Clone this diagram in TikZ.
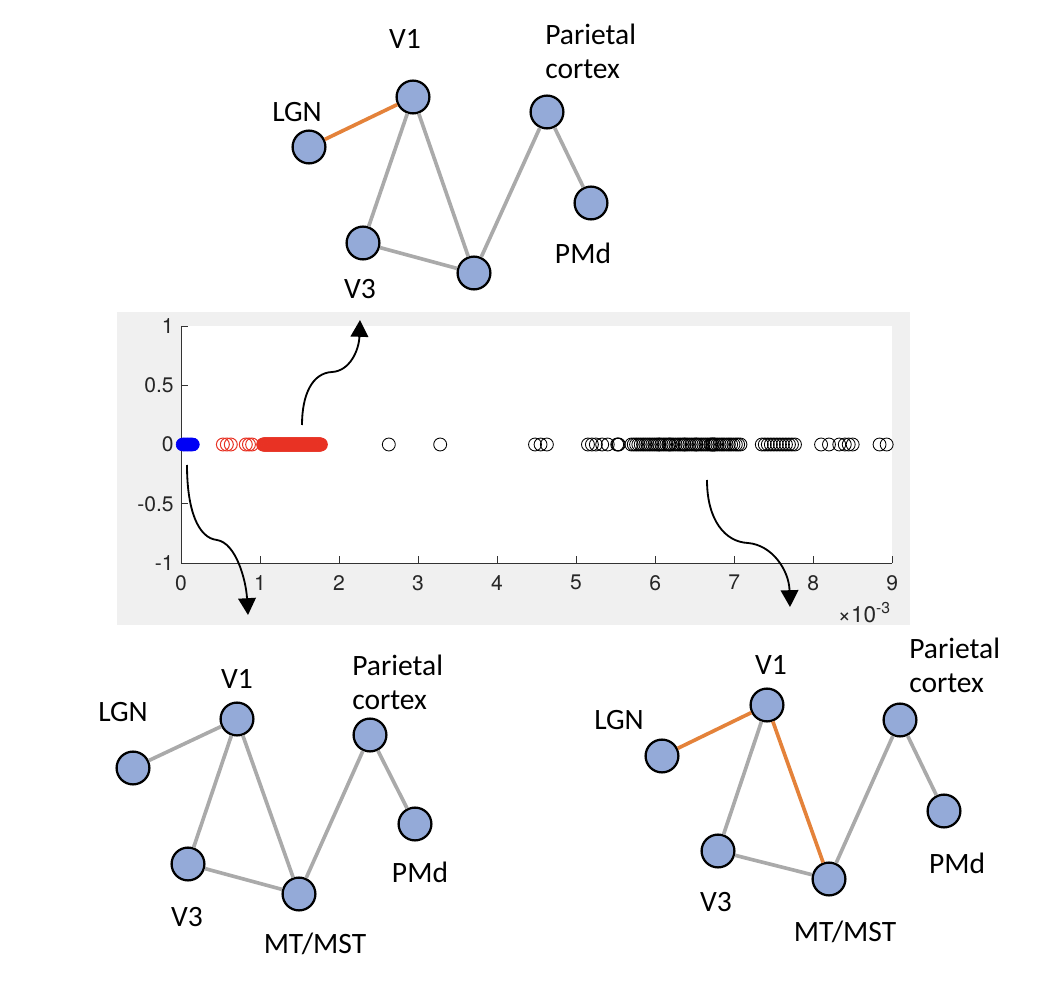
\documentclass[tikz,border=0pt]{standalone}
\usepackage{fontspec}
\setmainfont{Carlito}
\newfontfamily\axfont{TeX Gyre Heros}
\usetikzlibrary{arrows.meta, plotmarks}
\definecolor{areablue}{RGB}{148,170,216}
\definecolor{linkgray}{RGB}{170,170,170}
\definecolor{linkorange}{RGB}{228,130,58}
\definecolor{panelgray}{RGB}{240,240,240}
\definecolor{matred}{RGB}{232,50,36}
\definecolor{matblue}{RGB}{0,0,245}
\begin{document}
\begin{tikzpicture}[
    x=0.025cm, y=-0.025cm,
    area/.style={circle, draw, line width=1.6pt, fill=areablue, minimum size=0.82cm, inner sep=0pt},
    lbl/.style={font=\fontsize{21}{24}\selectfont, align=left, inner sep=0pt},
    link/.style={line width=2.6pt, linkgray},
    hot/.style={line width=2.6pt, linkorange},
    flow/.style={-{Triangle[length=4.2mm, width=4.4mm]}, line width=1.3pt},
    tick/.style={line width=0.6pt, black!80},
    ticklbl/.style={font=\axfont\fontsize{15}{17}\selectfont, inner sep=0pt, black!85},
    redmk/.style={draw=matred, only marks, mark=o, mark size=4.6pt, mark options={line width=0.7pt}},
    blackmk/.style={draw=black, only marks, mark=o, mark size=4.6pt, mark options={line width=0.6pt}},
    bluemk/.style={draw=matblue, only marks, mark=*, mark size=4.6pt, mark options={fill=matblue, draw=matblue}},
]
\useasboundingbox (0,0) rectangle (1040,990);

\node[area] (lgnT) at (309,147) {};
\node[area] (v1T) at (413,97) {};
\node[area] (parT) at (547,112) {};
\node[area] (pmdT) at (591,203) {};
\node[area] (v3T) at (363,243) {};
\node[area] (mtT) at (474,273) {};
\node[lbl] (lgnT-txt) at (297,112) {LGN};
\node[lbl] (v1T-txt) at (405,39) {V1};
\node[lbl, anchor=west] (parT-txt) at (545,51) {Parietal\\cortex};
\node[lbl] (pmdT-txt) at (583,253) {PMd};
\node[lbl] (v3T-txt) at (360,289) {V3};
\draw[hot] (lgnT) -- (v1T);
\draw[link] (v1T) -- (v3T);
\draw[link] (v1T) -- (mtT);
\draw[link] (v3T) -- (mtT);
\draw[link] (mtT) -- (parT);
\draw[link] (parT) -- (pmdT);

\fill[panelgray] (117,312) rectangle (910,625);
\begin{scope}[shift={(181,444.5)}, x=1.975cm, y=2.9625cm]
\fill[white] (0,-1) rectangle (9,1);
\draw[tick] (0,1) -- (0,-1) -- (9,-1);
\foreach \t in {-1,-0.5,0,0.5,1} {
  \draw[tick] (0,\t) -- ++(5pt,0);
  \node[ticklbl, anchor=east, xshift=-5pt] (ylab\t) at (0,\t) {\t};
}
\foreach \t in {0,...,9} {
  \draw[tick] (\t,-1) -- ++(0,5pt);
  \node[ticklbl, anchor=north, yshift=-8.5pt] (xlab\t) at (\t,-1) {\t};
}
\draw[bluemk] plot[domain=0.02:0.15, samples=12] (\x,0);
\draw[redmk] plot coordinates {(0.53,0) (0.58,0) (0.63,0) (0.82,0) (0.86,0) (0.9,0)};
\draw[redmk] plot[domain=1.04:1.77, samples=120] (\x,0);
\draw[blackmk] plot coordinates {(2.63,0) (3.28,0) (4.48,0) (4.55,0) (4.63,0) (5.15,0) (5.2,0) (5.25,0) (5.33,0) (5.4,0) (5.52,0) (5.53,0) (5.54,0)};
\draw[blackmk] plot[domain=5.7:7.08, samples=48] (\x,0);
\draw[blackmk] plot coordinates {(6.05,0) (6.18,0) (6.37,0) (6.52,0) (6.71,0) (6.73,0) (6.75,0)};
\draw[blackmk] plot[domain=7.35:7.77, samples=12] (\x,0);
\draw[blackmk] plot coordinates {(8.1,0) (8.2,0) (8.33,0) (8.4,0) (8.45,0) (8.5,0) (8.84,0) (8.93,0)};
\end{scope}
\node[font=\axfont\fontsize{16}{18}\selectfont, inner sep=0pt, black!85, anchor=base east] (scale) at (891,622) {×10\textsuperscript{-3}};

\coordinate (upFrom) at (302,425);
\coordinate (upTo) at (360,320);
\coordinate (leftFrom) at (187,465);
\coordinate (leftTo) at (248,615);
\coordinate (rightFrom) at (707,480);
\coordinate (rightTo) at (790,607);
\draw[flow] (upFrom) .. controls (302,395) and (312,373) .. (332,372) .. controls (350,371) and (359,350) .. (upTo);
\draw[flow] (leftFrom) .. controls (187,510) and (198,538) .. (217,540) .. controls (236,543) and (246,580) .. (leftTo);
\draw[flow] (rightFrom) .. controls (707,520) and (725,542) .. (748,543) .. controls (772,545) and (789,570) .. (rightTo);

\node[area] (lgnL) at (133,768) {};
\node[area] (v1L) at (237,719) {};
\node[area] (parL) at (370,735) {};
\node[area] (pmdL) at (415,824) {};
\node[area] (v3L) at (188,864) {};
\node[area] (mtL) at (299,894) {};
\node[lbl] (lgnL-txt) at (123,712) {LGN};
\node[lbl] (v1L-txt) at (237,679) {V1};
\node[lbl, anchor=west] (parL-txt) at (352,682) {Parietal\\cortex};
\node[lbl] (pmdL-txt) at (420,872) {PMd};
\node[lbl] (v3L-txt) at (187,917) {V3};
\node[lbl] (mtL-txt) at (315,944) {MT/MST};
\draw[link] (lgnL) -- (v1L);
\draw[link] (v1L) -- (v3L);
\draw[link] (v1L) -- (mtL);
\draw[link] (v3L) -- (mtL);
\draw[link] (mtL) -- (parL);
\draw[link] (parL) -- (pmdL);

\node[area] (lgnR) at (662,756) {};
\node[area] (v1R) at (767,705) {};
\node[area] (parR) at (900,720) {};
\node[area] (pmdR) at (944,811) {};
\node[area] (v3R) at (718,851) {};
\node[area] (mtR) at (829,879) {};
\node[lbl] (lgnR-txt) at (619,720) {LGN};
\node[lbl] (v1R-txt) at (771,665) {V1};
\node[lbl, anchor=west] (parR-txt) at (909,665) {Parietal\\cortex};
\node[lbl] (pmdR-txt) at (957,863) {PMd};
\node[lbl] (v3R-txt) at (716,902) {V3};
\node[lbl] (mtR-txt) at (845,932) {MT/MST};
\draw[hot] (lgnR) -- (v1R);
\draw[link] (v1R) -- (v3R);
\draw[hot] (v1R) -- (mtR);
\draw[link] (v3R) -- (mtR);
\draw[link] (mtR) -- (parR);
\draw[link] (parR) -- (pmdR);
\end{tikzpicture}
\end{document}
